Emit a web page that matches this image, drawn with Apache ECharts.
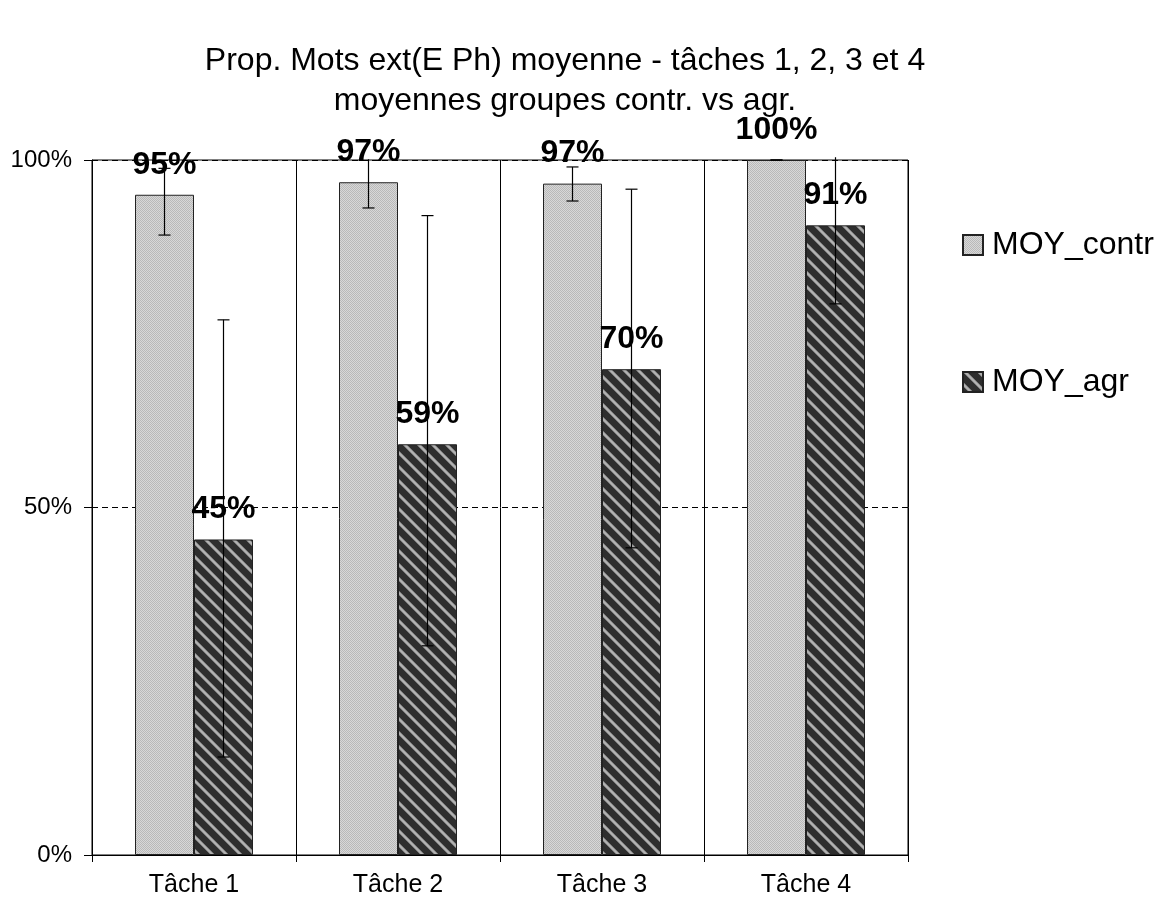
<!DOCTYPE html>
<html>
<head>
<meta charset="utf-8">
<script src="https://cdn.jsdelivr.net/npm/echarts@6/dist/echarts.min.js"></script>
<style>html,body{margin:0;padding:0;background:#fff;}#chart{width:1165px;height:905px;}</style>
</head>
<body>
<div id="chart"></div>
<script>
// ---- data ----
const categories = ['Tâche 1', 'Tâche 2', 'Tâche 3', 'Tâche 4'];
const seriesNames = ['MOY_contr', 'MOY_agr'];
const contrValues = [0.950, 0.968, 0.966, 1.000];
const agrValues = [0.454, 0.591, 0.699, 0.906];
const contrErrLow = [0.892, 0.931, 0.941, 1.000];
const contrErrHigh = [0.988, 1.001, 0.990, 1.000];
const agrErrLow = [0.141, 0.301, 0.442, 0.793];
const agrErrHigh = [0.770, 0.920, 0.958, 1.004];
const yTickLabels = ['0%', '50%', '100%'];
const titleLines = ['Prop. Mots ext(E Ph) moyenne - tâches 1, 2, 3 et 4', 'moyennes groupes contr. vs agr.'];

// ---- patterns ----
function makeCheckPattern() {
  const c = document.createElement('canvas');
  c.width = 2; c.height = 2;
  const ctx = c.getContext('2d');
  ctx.fillStyle = '#d8d8d8'; ctx.fillRect(0, 0, 2, 2);
  ctx.fillStyle = '#b9b9b9'; ctx.fillRect(0, 0, 1, 1); ctx.fillRect(1, 1, 1, 1);
  return c;
}
function makeStripePattern() {
  const n = 14;
  const c = document.createElement('canvas');
  c.width = n; c.height = n;
  const ctx = c.getContext('2d');
  const img = ctx.createImageData(n, n);
  const shade = [120, 170, 180, 170, 120];
  for (let y = 0; y < n; y++) {
    for (let x = 0; x < n; x++) {
      const d = ((x - y) % n + n) % n;
      let v = 46;
      if (d < shade.length) v = shade[d];
      const i = (y * n + x) * 4;
      img.data[i] = v; img.data[i + 1] = v; img.data[i + 2] = v; img.data[i + 3] = 255;
    }
  }
  ctx.putImageData(img, 0, 0);
  return c;
}
const checkPattern = { image: makeCheckPattern(), repeat: 'repeat' };
const stripePattern = { image: makeStripePattern(), repeat: 'repeat' };

const FONT = '"Liberation Sans", Arial, sans-serif';
const BAR_W = 59;

function errRender(offset) {
  return function (params, api) {
    const x = api.value(0);
    const lo = api.value(1), hi = api.value(2);
    const pHi = api.coord([x, hi]);
    const pLo = api.coord([x, lo]);
    const cx = pHi[0] + offset;
    const cap = 6;
    const style = { stroke: '#000', lineWidth: 1.2 };
    const children = [
      { type: 'line', shape: { x1: cx, y1: pHi[1], x2: cx, y2: pLo[1] }, style: style },
      { type: 'line', shape: { x1: cx - cap, y1: pLo[1], x2: cx + cap, y2: pLo[1] }, style: style }
    ];
    if (hi <= 1.0001) {
      children.push({ type: 'line', shape: { x1: cx - cap, y1: pHi[1], x2: cx + cap, y2: pHi[1] }, style: style });
    }
    return { type: 'group', children: children };
  };
}

const labelStyle = {
  show: true,
  position: 'top',
  distance: 14,
  fontFamily: FONT,
  fontSize: 32,
  fontWeight: 'bold',
  color: '#000',
  formatter: p => Math.round(p.value * 100) + '%'
};

const chart = echarts.init(document.getElementById('chart'), null, { renderer: 'canvas' });
chart.setOption({
  animation: false,
  backgroundColor: '#fff',
  title: {
    text: titleLines.join('\n'),
    left: 560,
    top: 36,
    textAlign: 'center',
    textStyle: { fontFamily: FONT, fontSize: 32, fontWeight: 'normal', color: '#000', lineHeight: 40 }
  },
  legend: {
    data: seriesNames,
    orient: 'vertical',
    left: 957,
    top: 224,
    itemGap: 105,
    itemWidth: 20,
    itemHeight: 20,
    icon: 'rect',
    textStyle: { fontFamily: FONT, fontSize: 32, color: '#000', padding: [0, 0, 0, 4] }
  },
  grid: {
    left: 92, right: 257, top: 160, bottom: 50,
    show: true, borderColor: '#000', borderWidth: 1, backgroundColor: 'transparent'
  },
  xAxis: {
    type: 'category',
    data: categories,
    axisLine: { lineStyle: { color: '#000', width: 1 } },
    axisTick: { show: true, length: 7, lineStyle: { color: '#000' } },
    axisLabel: { fontFamily: FONT, fontSize: 25, color: '#000', margin: 18 },
    splitLine: { show: true, lineStyle: { color: '#000', width: 1 } }
  },
  yAxis: {
    type: 'value',
    min: 0, max: 1, interval: 0.5,
    axisLine: { show: true, lineStyle: { color: '#000', width: 1 } },
    axisTick: { show: true, length: 8, lineStyle: { color: '#000' } },
    axisLabel: {
      fontFamily: FONT, fontSize: 24, color: '#000', margin: 20,
      formatter: v => yTickLabels[Math.round(v / 0.5)]
    },
    splitLine: { show: true, lineStyle: { color: '#000', width: 1, type: [6, 4] } }
  },
  series: [
    {
      name: seriesNames[0], type: 'bar', data: contrValues,
      barWidth: BAR_W, barGap: '0%',
      itemStyle: { color: checkPattern, borderColor: '#222', borderWidth: 1 },
      label: labelStyle, z: 2
    },
    {
      name: seriesNames[1], type: 'bar', data: agrValues,
      barWidth: BAR_W, barGap: '0%',
      itemStyle: { color: stripePattern, borderColor: '#222', borderWidth: 1 },
      label: labelStyle, z: 2
    },
    {
      name: 'err_contr', type: 'custom',
      data: categories.map((c, i) => [i, contrErrLow[i], contrErrHigh[i]]),
      encode: { x: 0, y: [1, 2] },
      renderItem: errRender(-BAR_W / 2), z: 5, silent: true
    },
    {
      name: 'err_agr', type: 'custom',
      data: categories.map((c, i) => [i, agrErrLow[i], agrErrHigh[i]]),
      encode: { x: 0, y: [1, 2] },
      renderItem: errRender(BAR_W / 2), z: 5, silent: true
    }
  ]
});
</script>
</body>
</html>
